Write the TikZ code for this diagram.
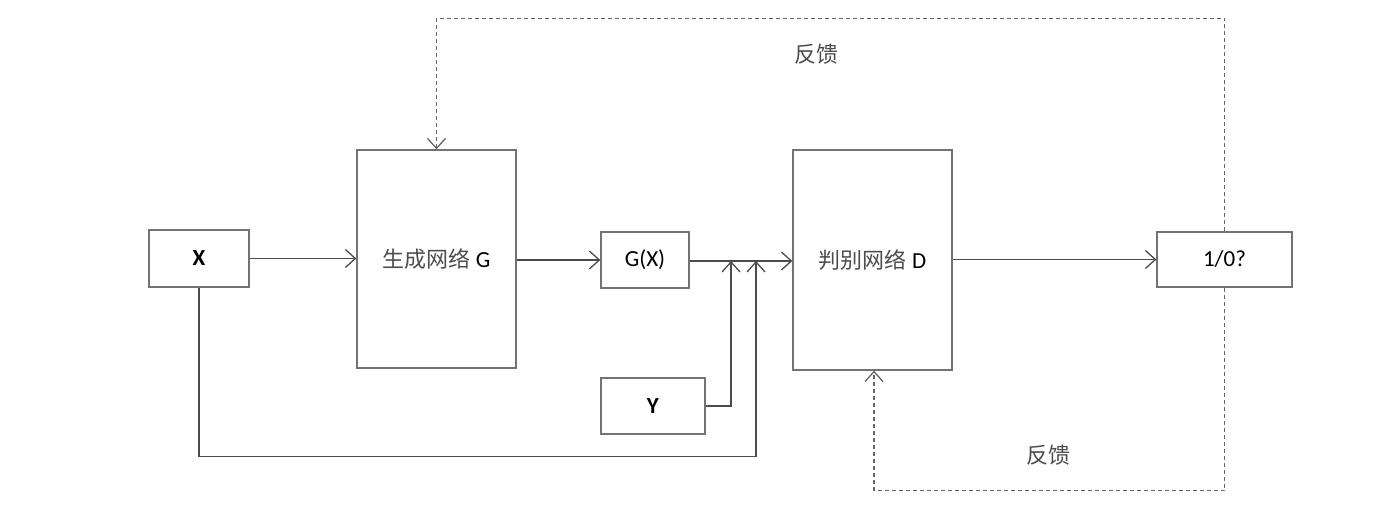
\documentclass[tikz,border=0pt]{standalone}
\usepackage{fontspec}
\setmainfont{Carlito}
\newfontfamily\cjk{Noto Sans CJK SC}
\usetikzlibrary{arrows.meta}

\begin{document}
\begin{tikzpicture}[x=1pt,y=-1pt,
  block/.style={draw=black!55,line width=1.3pt,inner sep=0pt,font=\fontsize{23}{27}\selectfont},
  flow/.style={draw=black!70,line width=1.3pt,-{Straight Barb[length=10pt,width=18pt,line width=1.3pt]}},
  fb/.style={flow,draw=black!60,dash pattern=on 4pt off 3pt},
  note/.style={font=\cjk\fontsize{22}{26}\selectfont,text=black!70}]
\useasboundingbox (0,0) rectangle (1400,510);
\node[block,minimum width=100pt,minimum height=57pt] (x) at (199,258.5) {\textbf{X}};
\node[block,minimum width=159pt,minimum height=218pt] (gen) at (436.5,259) {{\cjk\fontsize{22}{26}\selectfont\color{black!70}生成网络} G};
\node[block,minimum width=88pt,minimum height=56pt] (gx) at (645,260) {G(X)};
\node[block,minimum width=104pt,minimum height=56pt] (y) at (653,406) {\textbf{Y}};
\node[block,minimum width=159pt,minimum height=220pt] (dis) at (872.5,260) {{\cjk\fontsize{22}{26}\selectfont\color{black!70}判别网络} D};
\node[block,minimum width=135pt,minimum height=55pt] (res) at (1224.5,259.5) {1/0?};
\coordinate (j1) at (731,261);
\coordinate (j2) at (756,261);
% forward path
\draw[flow] (x) -- (gen.west |- x);
\draw[flow] (gen.east |- gx) -- (gx);
\draw[flow] (gx.east |- j1) -- (dis.west |- j1);
\draw[flow] (y) -| (j1);
\draw[flow] (x.south) -- ++(0,169) -| (j2);
\draw[flow] (dis.east |- res) -- (res);
% feedback
\draw[fb] (res.north) -- ++(0,-213) -| (gen.north);
\draw[fb] (res.south) -- ++(0,203) -| ([xshift=1.5pt]dis.south);
\node[note] (fb1) at (816,54) {反馈};
\node[note] (fb2) at (1048,455) {反馈};
\end{tikzpicture}
\end{document}
